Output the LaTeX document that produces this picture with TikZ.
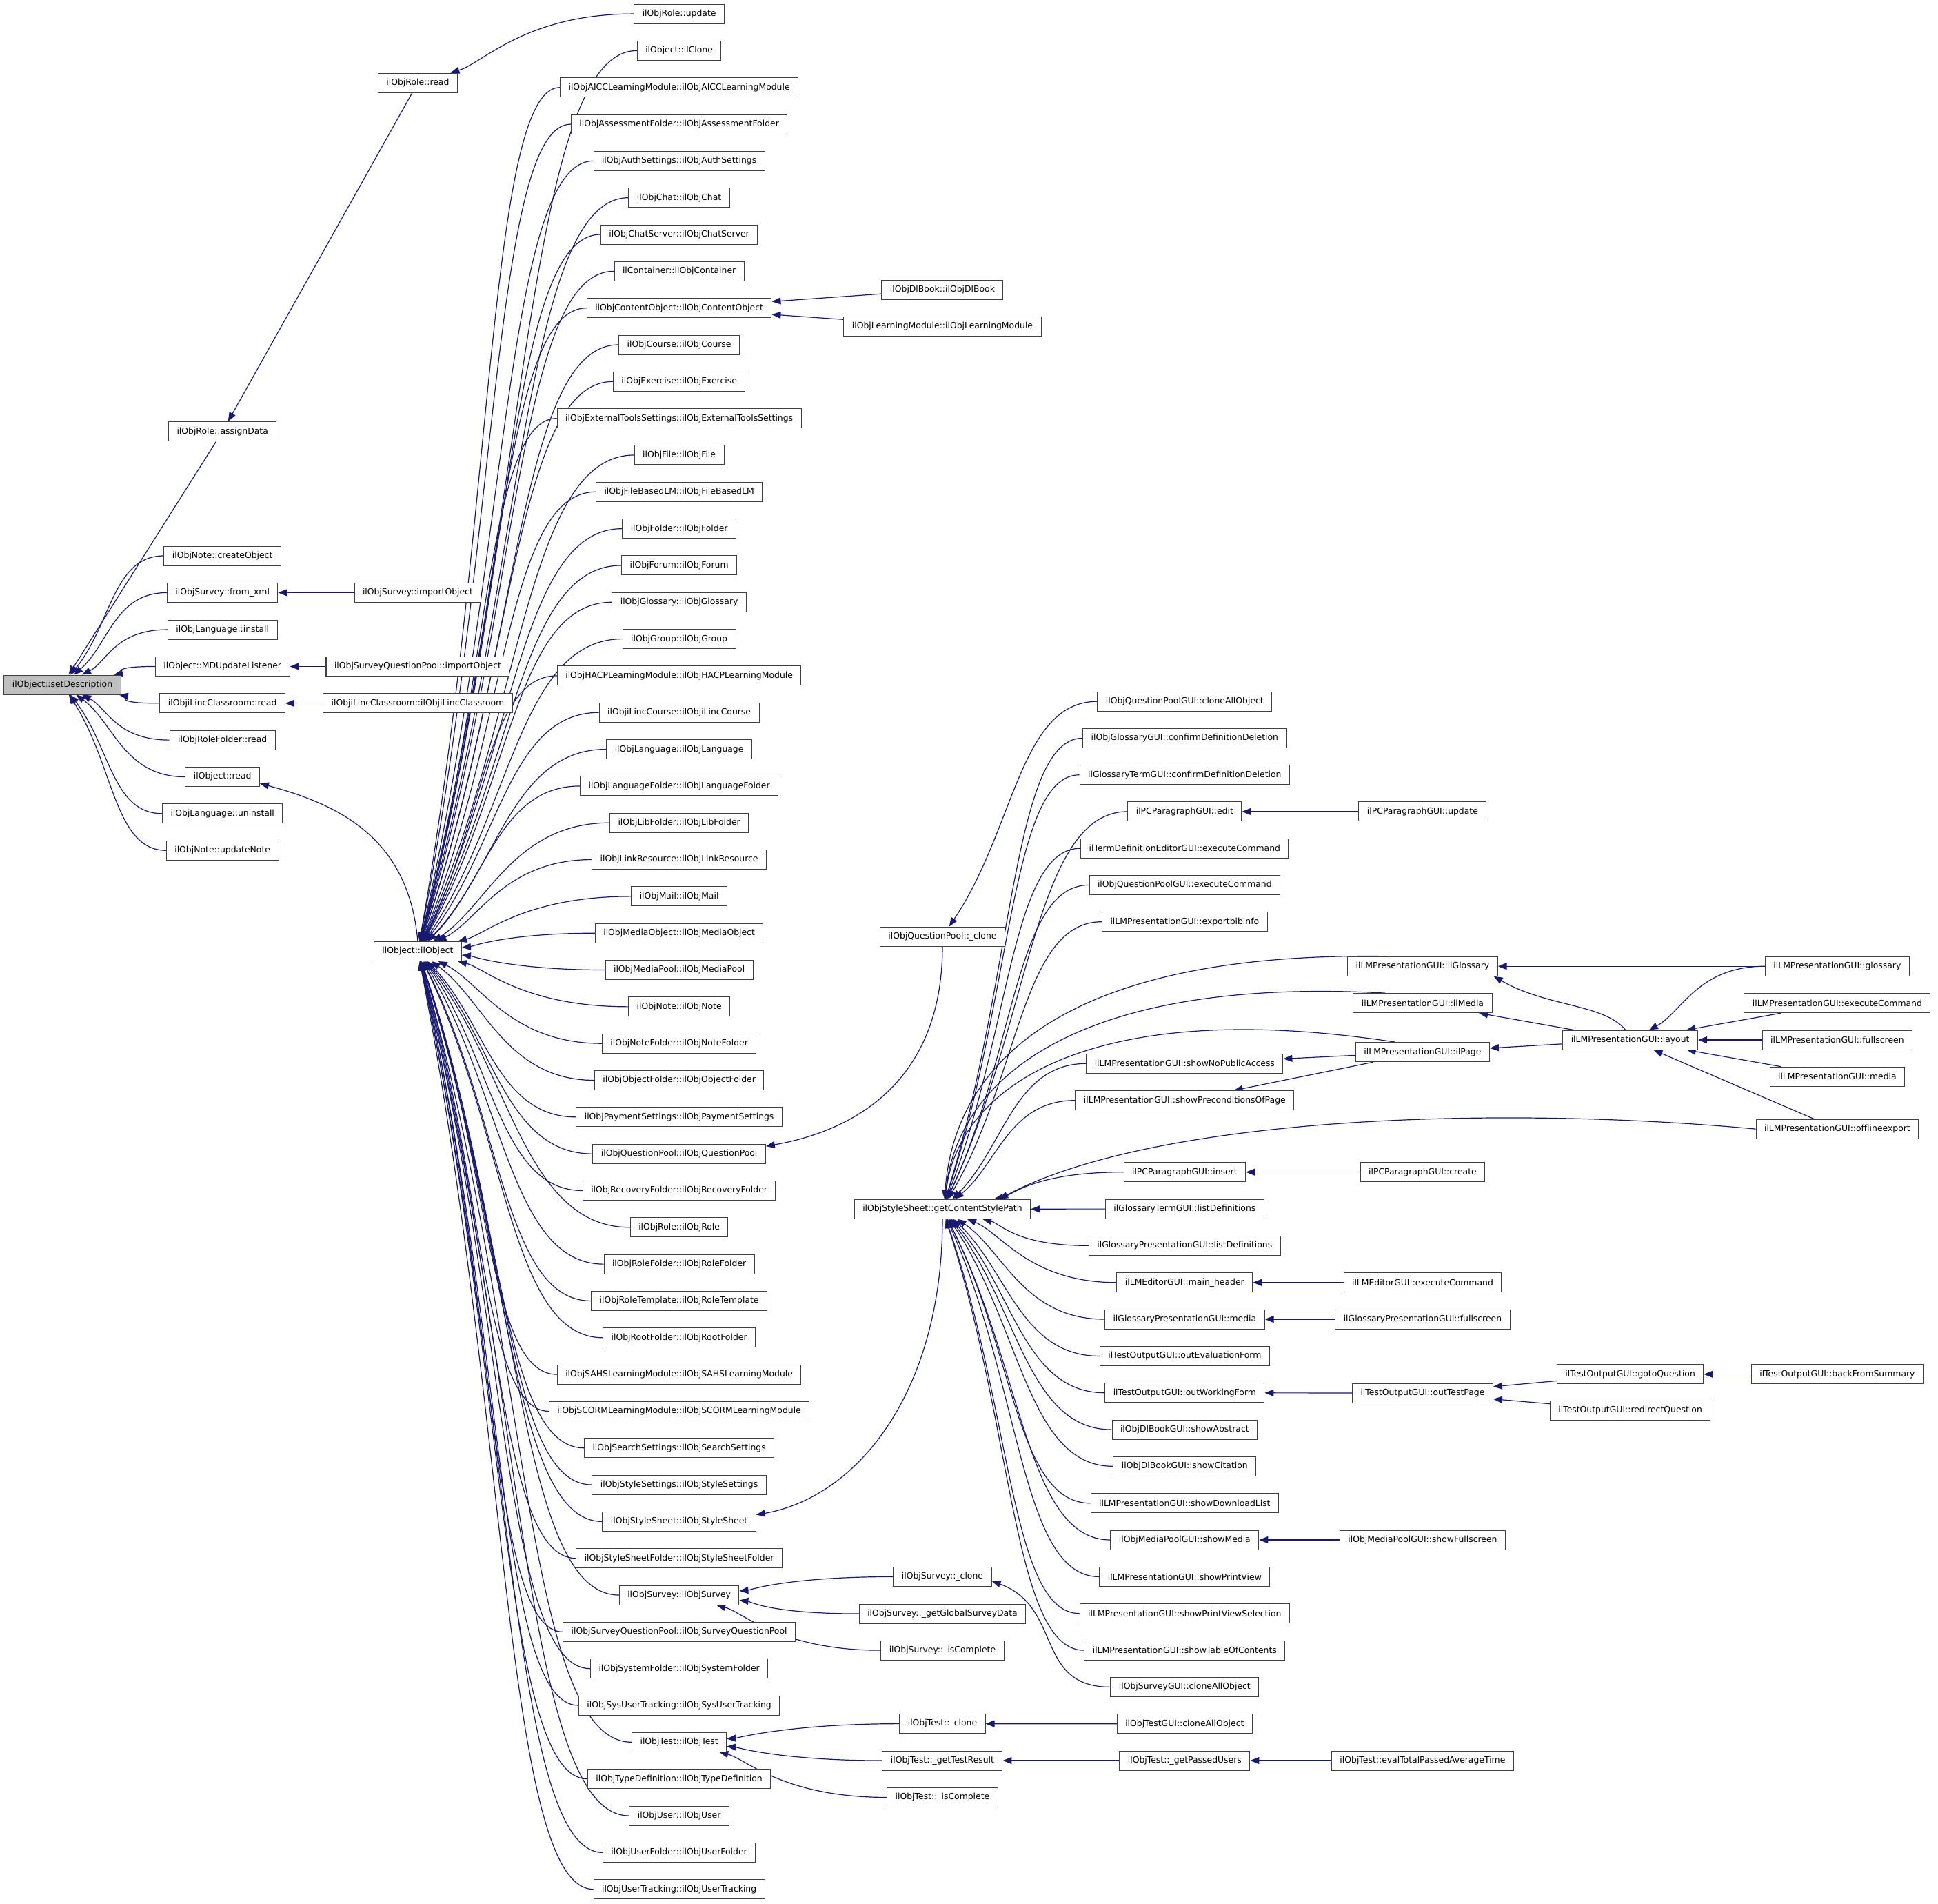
\documentclass[tikz,border=0pt]{standalone}
\usepackage{fontspec}
\setmainfont{DejaVu Sans}
\usetikzlibrary{arrows.meta,calc}
\definecolor{edgeblue}{RGB}{25,25,112}
\definecolor{hlgray}{RGB}{191,191,191}
\pgfdeclarelayer{bgfill}
\pgfdeclarelayer{edgelayer}
\pgfsetlayers{bgfill,edgelayer,main}
\tikzset{
  box/.style={draw=black!75, line width=1pt, fill=white, inner xsep=12pt, inner ysep=0pt,
              minimum height=28pt, font=\fontsize{12.4pt}{14pt}\selectfont},
  arr/.style={draw=edgeblue, line width=1.2pt, arrows={Triangle[length=13pt,width=10pt]-}},
}
% curved connector: arrow tip at #1 (callee), tail at west side of #2 (caller)
\newcommand\edgeC[2]{%
  \pgfpointanchor{#1}{center}\pgfgetlastxy{\eAx}{\eAy}%
  \pgfpointanchor{#2}{west}\pgfgetlastxy{\eBx}{\eBy}%
  \pgfmathtruncatemacro\eAng{atan2(\eBy-\eAy,\eBx-\eAx)}%
  \pgfmathsetmacro\eDa{0.5*abs(\eBy-\eAy)}%
  \pgfmathsetmacro\eDb{0.5*abs(\eBx-\eAx)}%
  \draw[arr] (#1.\eAng) .. controls +(\eAng:\eDa pt) and +(-\eDb pt,0pt) .. (#2.west);}
\begin{document}
\begin{tikzpicture}[x=1.79272pt, y=-1.79272pt]
\begin{pgfonlayer}{bgfill}
\fill[white] (0,0) rectangle (1568,1540);
\end{pgfonlayer}
\useasboundingbox (0,0) rectangle (1568,1540);

% ---------- column 1
\node[box, fill=hlgray] (sd) at (50.5,553.9) {ilObject::setDescription};

% ---------- column 2
\foreach \nm/\tx/\yy in {
  assignData/ilObjRole::assignData/349,
  createObj/ilObjNote::createObject/449.6,
  fromXml/ilObjSurvey::from\_xml/479.4,
  install/ilObjLanguage::install/509.3,
  mdUpdate/ilObject::MDUpdateListener/539.1,
  lincRead/ilObjiLincClassroom::read/568.9,
  rfRead/ilObjRoleFolder::read/598.6,
  objRead/ilObject::read/628.4,
  uninstall/ilObjLanguage::uninstall/658.1,
  updateNote/ilObjNote::updateNote/687.9}
  \node[box] (\nm) at (180,\yy) {\tx};

% ---------- column 3
\foreach \nm/\tx/\yy in {
  roleRead/ilObjRole::read/67,
  surveyImport/ilObjSurvey::importObject/479.4,
  sqpImport/ilObjSurveyQuestionPool::importObject/539.1,
  lincCtor/ilObjiLincClassroom::ilObjiLincClassroom/568.9,
  ilObj/ilObject::ilObject/769.5}
  \node[box] (\nm) at (338,\yy) {\tx};

% ---------- column 4
\foreach \nm/\tx [count=\i from 0] in {
  roleUpd/ilObjRole::update,
  ilClone/ilObject::ilClone,
  aicc/ilObjAICCLearningModule::ilObjAICCLearningModule,
  assess/ilObjAssessmentFolder::ilObjAssessmentFolder,
  auth/ilObjAuthSettings::ilObjAuthSettings,
  chat/ilObjChat::ilObjChat,
  chatsrv/ilObjChatServer::ilObjChatServer,
  container/ilContainer::ilObjContainer,
  contobj/ilObjContentObject::ilObjContentObject,
  course/ilObjCourse::ilObjCourse,
  exercise/ilObjExercise::ilObjExercise,
  exttools/ilObjExternalToolsSettings::ilObjExternalToolsSettings,
  file/ilObjFile::ilObjFile,
  filelm/ilObjFileBasedLM::ilObjFileBasedLM,
  folder/ilObjFolder::ilObjFolder,
  forum/ilObjForum::ilObjForum,
  glossary/ilObjGlossary::ilObjGlossary,
  group/ilObjGroup::ilObjGroup,
  hacp/ilObjHACPLearningModule::ilObjHACPLearningModule,
  linccourse/ilObjiLincCourse::ilObjiLincCourse,
  language/ilObjLanguage::ilObjLanguage,
  langfolder/ilObjLanguageFolder::ilObjLanguageFolder,
  libfolder/ilObjLibFolder::ilObjLibFolder,
  linkres/ilObjLinkResource::ilObjLinkResource,
  mail/ilObjMail::ilObjMail,
  mediaobj/ilObjMediaObject::ilObjMediaObject,
  mediapool/ilObjMediaPool::ilObjMediaPool,
  note/ilObjNote::ilObjNote,
  notefolder/ilObjNoteFolder::ilObjNoteFolder,
  objfolder/ilObjObjectFolder::ilObjObjectFolder,
  payment/ilObjPaymentSettings::ilObjPaymentSettings,
  qpctor/ilObjQuestionPool::ilObjQuestionPool,
  recovery/ilObjRecoveryFolder::ilObjRecoveryFolder,
  role/ilObjRole::ilObjRole,
  rolefolder/ilObjRoleFolder::ilObjRoleFolder,
  roletpl/ilObjRoleTemplate::ilObjRoleTemplate,
  rootfolder/ilObjRootFolder::ilObjRootFolder,
  sahs/ilObjSAHSLearningModule::ilObjSAHSLearningModule,
  scorm/ilObjSCORMLearningModule::ilObjSCORMLearningModule,
  search/ilObjSearchSettings::ilObjSearchSettings,
  stylesettings/ilObjStyleSettings::ilObjStyleSettings,
  ssctor/ilObjStyleSheet::ilObjStyleSheet,
  ssfolder/ilObjStyleSheetFolder::ilObjStyleSheetFolder,
  survey/ilObjSurvey::ilObjSurvey,
  sqp/ilObjSurveyQuestionPool::ilObjSurveyQuestionPool,
  sysfolder/ilObjSystemFolder::ilObjSystemFolder,
  sysuser/ilObjSysUserTracking::ilObjSysUserTracking,
  test/ilObjTest::ilObjTest,
  typedef/ilObjTypeDefinition::ilObjTypeDefinition,
  user/ilObjUser::ilObjUser,
  userfolder/ilObjUserFolder::ilObjUserFolder,
  usertrack/ilObjUserTracking::ilObjUserTracking}
  \node[box] (\nm) at (549.5,{11.2+29.745*\i}) {\tx};

% ---------- column 5
\foreach \nm/\tx/\yy in {
  dlBook/ilObjDlBook::ilObjDlBook/234.3,
  lmod/ilObjLearningModule::ilObjLearningModule/264,
  qpClone/ilObjQuestionPool::\_clone/757.5,
  gcsp/ilObjStyleSheet::getContentStylePath/978,
  surveyClone/ilObjSurvey::\_clone/1275.4,
  surveyGlobal/ilObjSurvey::\_getGlobalSurveyData/1305.3,
  surveyComplete/ilObjSurvey::\_isComplete/1334.9,
  testClone/ilObjTest::\_clone/1394.3,
  testResult/ilObjTest::\_getTestResult/1424.1,
  testComplete/ilObjTest::\_isComplete/1453.9}
  \node[box] (\nm) at (762.5,\yy) {\tx};

% ---------- column 6
\foreach \nm/\tx/\yy in {
  qpguiClone/ilObjQuestionPoolGUI::cloneAllObject/567.4,
  glossConfirm/ilObjGlossaryGUI::confirmDefinitionDeletion/597.1,
  termConfirm/ilGlossaryTermGUI::confirmDefinitionDeletion/626.8,
  pcEdit/ilPCParagraphGUI::edit/656.5,
  termDefExec/ilTermDefinitionEditorGUI::executeCommand/686.2,
  qpguiExec/ilObjQuestionPoolGUI::executeCommand/715.9,
  exportbib/ilLMPresentationGUI::exportbibinfo/745.6,
  showNoPub/ilLMPresentationGUI::showNoPublicAccess/860.3,
  showPrecond/ilLMPresentationGUI::showPreconditionsOfPage/890.1,
  insert/ilPCParagraphGUI::insert/948.1,
  listDefTerm/ilGlossaryTermGUI::listDefinitions/977.9,
  listDefPres/ilGlossaryPresentationGUI::listDefinitions/1007.6,
  mainHeader/ilLMEditorGUI::main\_header/1037.4,
  gpMedia/ilGlossaryPresentationGUI::media/1067.1,
  outEval/ilTestOutputGUI::outEvaluationForm/1096.9,
  outWorking/ilTestOutputGUI::outWorkingForm/1126.6,
  showAbstract/ilObjDlBookGUI::showAbstract/1156.4,
  showCitation/ilObjDlBookGUI::showCitation/1186.1,
  showDownload/ilLMPresentationGUI::showDownloadList/1215.9,
  showMedia/ilObjMediaPoolGUI::showMedia/1245.6,
  showPrintView/ilLMPresentationGUI::showPrintView/1275.4,
  showPrintSel/ilLMPresentationGUI::showPrintViewSelection/1305.1,
  showTOC/ilLMPresentationGUI::showTableOfContents/1334.9,
  surveyGuiClone/ilObjSurveyGUI::cloneAllObject/1364.6,
  testGuiClone/ilObjTestGUI::cloneAllObject/1394.4,
  passedUsers/ilObjTest::\_getPassedUsers/1424.1}
  \node[box] (\nm) at (958.5,\yy) {\tx};

% ---------- column 7
\foreach \nm/\tx/\yy in {
  pcUpdate/ilPCParagraphGUI::update/656.5,
  ilGlossary/ilLMPresentationGUI::ilGlossary/781.6,
  ilMedia/ilLMPresentationGUI::ilMedia/811.4,
  ilPage/ilLMPresentationGUI::ilPage/851,
  pcCreate/ilPCParagraphGUI::create/948.1,
  lmeExec/ilLMEditorGUI::executeCommand/1037.4,
  gpFull/ilGlossaryPresentationGUI::fullscreen/1067.1,
  outTestPage/ilTestOutputGUI::outTestPage/1126.8,
  mpFull/ilObjMediaPoolGUI::showFullscreen/1245.6,
  evalTotal/ilObjTest::evalTotalPassedAverageTime/1424.1}
  \node[box] (\nm) at (1151,\yy) {\tx};

% ---------- column 8
\foreach \nm/\tx/\yy in {
  layout/ilLMPresentationGUI::layout/841.2,
  gotoQ/ilTestOutputGUI::gotoQuestion/1111.6,
  redirQ/ilTestOutputGUI::redirectQuestion/1141}
  \node[box] (\nm) at (1319,\yy) {\tx};

% ---------- column 9
\foreach \nm/\tx/\yy in {
  lmGlossary/ilLMPresentationGUI::glossary/781.6,
  lmExec/ilLMPresentationGUI::executeCommand/811.4,
  lmFull/ilLMPresentationGUI::fullscreen/841.2,
  lmMedia/ilLMPresentationGUI::media/870.8,
  offline/ilLMPresentationGUI::offlineexport/913.2,
  backFrom/ilTestOutputGUI::backFromSummary/1111.6}
  \node[box] (\nm) at (1486.5,\yy) {\tx};

% ================= connectors (drawn beneath the boxes)
\begin{pgfonlayer}{edgelayer}
\draw[arr] (sd) -- (assignData);
\foreach \nm in {createObj,fromXml,install,mdUpdate,lincRead,rfRead,objRead,uninstall,updateNote}
  \edgeC{sd}{\nm};
\draw[arr] (assignData) -- (roleRead);
\edgeC{roleRead}{roleUpd}
\draw[arr] (fromXml) -- (surveyImport);
\draw[arr] (mdUpdate) -- (sqpImport);
\draw[arr] (lincRead) -- (lincCtor);
\draw[arr] (objRead.-10) .. controls +(-15:120pt) and +(95:150pt) .. (ilObj.north);

\foreach \nm in {ilClone,aicc,assess,auth,chat,chatsrv,container,contobj,course,exercise,
  exttools,file,filelm,folder,forum,glossary,group,hacp,linccourse,language,langfolder,
  libfolder,linkres,mail,mediaobj,mediapool,note,notefolder,objfolder,payment,qpctor,
  recovery,role,rolefolder,roletpl,rootfolder,sahs,scorm,search,stylesettings,ssctor,
  ssfolder,survey,sqp,sysfolder,sysuser,test,typedef,user,userfolder,usertrack}
  \edgeC{ilObj}{\nm};

\draw[arr] (contobj) -- (dlBook);
\draw[arr] (contobj) -- (lmod);

\draw[arr] (qpctor.5) .. controls +(10:150pt) and +(-90:180pt) .. (qpClone.south);
\edgeC{qpClone}{qpguiClone}
\draw[arr] (ssctor.5) .. controls +(10:150pt) and +(-90:250pt) .. (gcsp.south);

\foreach \nm in {glossConfirm,termConfirm,pcEdit,termDefExec,qpguiExec,exportbib,
  showNoPub,showPrecond,insert,listDefTerm,listDefPres,
  mainHeader,gpMedia,outEval,outWorking,showAbstract,showCitation,showDownload,
  showMedia,showPrintView,showPrintSel,showTOC}
  \edgeC{gcsp}{\nm};
\draw[arr] (gcsp.78) .. controls (772,860) and (860,770) .. (ilGlossary.165);
\draw[arr] (gcsp.76) .. controls (775,870) and (875,790) .. (ilMedia.165);
\draw[arr] (gcsp.74) .. controls (775,880) and (880,805) .. (ilPage.160);
\draw[arr] (gcsp.10) .. controls (930,905) and (1200,893) .. (offline.west);

\draw[arr] (pcEdit) -- (pcUpdate);
\draw[arr] (ilGlossary) -- (lmGlossary);
\draw[arr] (ilGlossary.-8) .. controls +(-30:90pt) and +(130:50pt) .. (layout.115);
\draw[arr] (ilMedia) -- (layout);
\draw[arr] (ilPage) -- (layout);
\edgeC{layout}{lmGlossary}
\draw[arr] (layout) -- (lmExec);
\draw[arr] (layout) -- (lmFull);
\draw[arr] (layout) -- (lmMedia);
\draw[arr] (layout) -- (offline);
\draw[arr] (showNoPub) -- (ilPage);
\draw[arr] (showPrecond) -- (ilPage);
\draw[arr] (insert) -- (pcCreate);
\draw[arr] (mainHeader) -- (lmeExec);
\draw[arr] (gpMedia) -- (gpFull);
\draw[arr] (showMedia) -- (mpFull);
\draw[arr] (outWorking) -- (outTestPage);
\draw[arr] (outTestPage) -- (gotoQ);
\draw[arr] (outTestPage) -- (redirQ);
\draw[arr] (gotoQ) -- (backFrom);

\edgeC{survey}{surveyClone}
\edgeC{survey}{surveyGlobal}
\edgeC{survey}{surveyComplete}
\draw[arr] (surveyClone.-5) .. controls +(-20:110pt) and +(-110pt,0pt) .. (surveyGuiClone.west);

\edgeC{test}{testClone}
\edgeC{test}{testResult}
\edgeC{test}{testComplete}
\draw[arr] (testClone) -- (testGuiClone);
\draw[arr] (testResult) -- (passedUsers);
\draw[arr] (passedUsers) -- (evalTotal);
\end{pgfonlayer}
\end{tikzpicture}
\end{document}
